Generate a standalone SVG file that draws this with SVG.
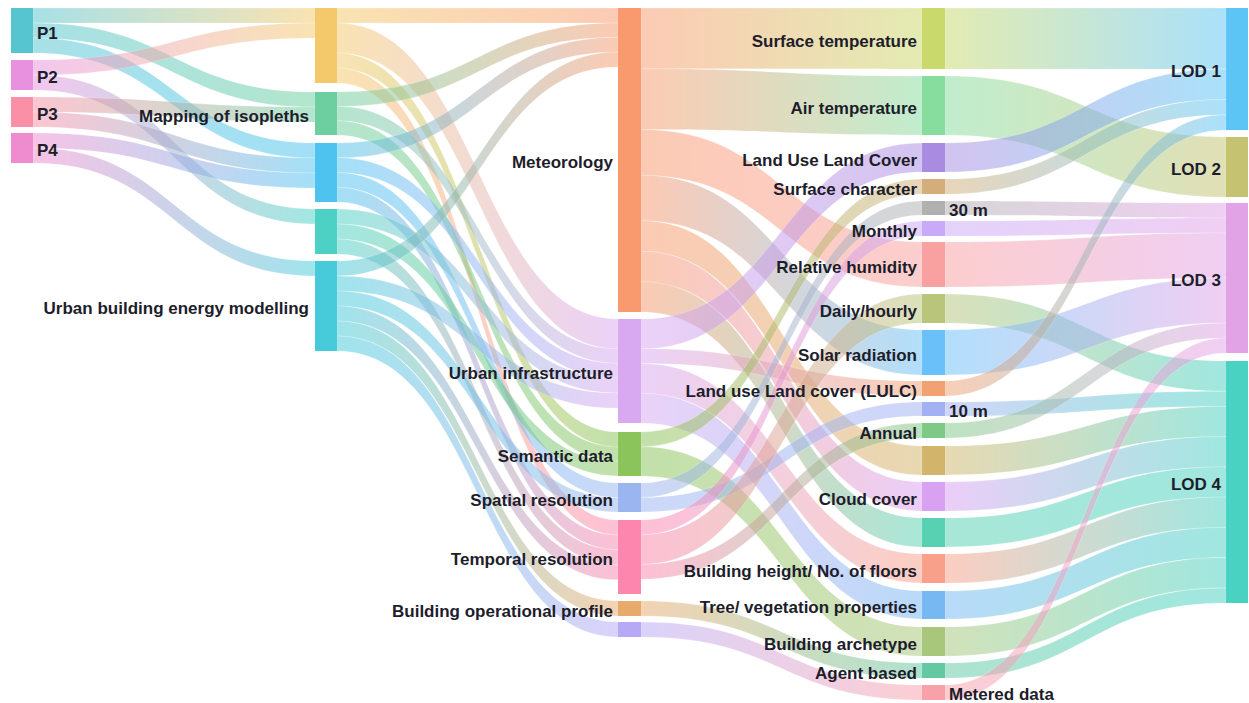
<svg xmlns="http://www.w3.org/2000/svg" width="1249" height="703" viewBox="0 0 1249 703">
<style>
.lk{fill-opacity:.52;stroke:#fff;stroke-opacity:.35;stroke-width:.6}
.lb{font-family:"Liberation Sans",Arial,sans-serif;font-weight:700;font-size:17px;fill:#1d1d2b}
.r{text-anchor:end}
</style>
<defs>
<linearGradient id="g1"><stop offset="0" stop-color="#57c5cf"/><stop offset="1" stop-color="#f4c96b"/></linearGradient>
<linearGradient id="g2"><stop offset="0" stop-color="#57c5cf"/><stop offset="1" stop-color="#6dcf9f"/></linearGradient>
<linearGradient id="g3"><stop offset="0" stop-color="#57c5cf"/><stop offset="1" stop-color="#4ec3f0"/></linearGradient>
<linearGradient id="g4"><stop offset="0" stop-color="#e892df"/><stop offset="1" stop-color="#f4c96b"/></linearGradient>
<linearGradient id="g5"><stop offset="0" stop-color="#e892df"/><stop offset="1" stop-color="#4cd1c4"/></linearGradient>
<linearGradient id="g6"><stop offset="0" stop-color="#f990a5"/><stop offset="1" stop-color="#6dcf9f"/></linearGradient>
<linearGradient id="g7"><stop offset="0" stop-color="#f990a5"/><stop offset="1" stop-color="#4ec3f0"/></linearGradient>
<linearGradient id="g8"><stop offset="0" stop-color="#ef8bcf"/><stop offset="1" stop-color="#4ec3f0"/></linearGradient>
<linearGradient id="g9"><stop offset="0" stop-color="#ef8bcf"/><stop offset="1" stop-color="#47cbda"/></linearGradient>
<linearGradient id="g10"><stop offset="0" stop-color="#f4c96b"/><stop offset="1" stop-color="#f99a6e"/></linearGradient>
<linearGradient id="g11"><stop offset="0" stop-color="#f4c96b"/><stop offset="1" stop-color="#d8a8f1"/></linearGradient>
<linearGradient id="g12"><stop offset="0" stop-color="#f4c96b"/><stop offset="1" stop-color="#8ac45b"/></linearGradient>
<linearGradient id="g13"><stop offset="0" stop-color="#f4c96b"/><stop offset="1" stop-color="#fc86ad"/></linearGradient>
<linearGradient id="g14"><stop offset="0" stop-color="#6dcf9f"/><stop offset="1" stop-color="#f99a6e"/></linearGradient>
<linearGradient id="g15"><stop offset="0" stop-color="#6dcf9f"/><stop offset="1" stop-color="#d8a8f1"/></linearGradient>
<linearGradient id="g16"><stop offset="0" stop-color="#6dcf9f"/><stop offset="1" stop-color="#8ac45b"/></linearGradient>
<linearGradient id="g17"><stop offset="0" stop-color="#4ec3f0"/><stop offset="1" stop-color="#f99a6e"/></linearGradient>
<linearGradient id="g18"><stop offset="0" stop-color="#4ec3f0"/><stop offset="1" stop-color="#d8a8f1"/></linearGradient>
<linearGradient id="g19"><stop offset="0" stop-color="#4ec3f0"/><stop offset="1" stop-color="#9bb5f0"/></linearGradient>
<linearGradient id="g20"><stop offset="0" stop-color="#4ec3f0"/><stop offset="1" stop-color="#fc86ad"/></linearGradient>
<linearGradient id="g21"><stop offset="0" stop-color="#4cd1c4"/><stop offset="1" stop-color="#d8a8f1"/></linearGradient>
<linearGradient id="g22"><stop offset="0" stop-color="#4cd1c4"/><stop offset="1" stop-color="#8ac45b"/></linearGradient>
<linearGradient id="g23"><stop offset="0" stop-color="#4cd1c4"/><stop offset="1" stop-color="#fc86ad"/></linearGradient>
<linearGradient id="g24"><stop offset="0" stop-color="#47cbda"/><stop offset="1" stop-color="#f99a6e"/></linearGradient>
<linearGradient id="g25"><stop offset="0" stop-color="#47cbda"/><stop offset="1" stop-color="#d8a8f1"/></linearGradient>
<linearGradient id="g26"><stop offset="0" stop-color="#47cbda"/><stop offset="1" stop-color="#9bb5f0"/></linearGradient>
<linearGradient id="g27"><stop offset="0" stop-color="#47cbda"/><stop offset="1" stop-color="#fc86ad"/></linearGradient>
<linearGradient id="g28"><stop offset="0" stop-color="#47cbda"/><stop offset="1" stop-color="#e8aa6b"/></linearGradient>
<linearGradient id="g29"><stop offset="0" stop-color="#47cbda"/><stop offset="1" stop-color="#b8a9f6"/></linearGradient>
<linearGradient id="g30"><stop offset="0" stop-color="#f99a6e"/><stop offset="1" stop-color="#c9d96b"/></linearGradient>
<linearGradient id="g31"><stop offset="0" stop-color="#f99a6e"/><stop offset="1" stop-color="#86dd9e"/></linearGradient>
<linearGradient id="g32"><stop offset="0" stop-color="#f99a6e"/><stop offset="1" stop-color="#f9a0a1"/></linearGradient>
<linearGradient id="g33"><stop offset="0" stop-color="#f99a6e"/><stop offset="1" stop-color="#6ac1f9"/></linearGradient>
<linearGradient id="g34"><stop offset="0" stop-color="#f99a6e"/><stop offset="1" stop-color="#d2b56b"/></linearGradient>
<linearGradient id="g35"><stop offset="0" stop-color="#f99a6e"/><stop offset="1" stop-color="#d9a1f2"/></linearGradient>
<linearGradient id="g36"><stop offset="0" stop-color="#f99a6e"/><stop offset="1" stop-color="#57d1b2"/></linearGradient>
<linearGradient id="g37"><stop offset="0" stop-color="#d8a8f1"/><stop offset="1" stop-color="#a98ce2"/></linearGradient>
<linearGradient id="g38"><stop offset="0" stop-color="#d8a8f1"/><stop offset="1" stop-color="#f2a172"/></linearGradient>
<linearGradient id="g39"><stop offset="0" stop-color="#d8a8f1"/><stop offset="1" stop-color="#f9a08a"/></linearGradient>
<linearGradient id="g40"><stop offset="0" stop-color="#d8a8f1"/><stop offset="1" stop-color="#77b8f3"/></linearGradient>
<linearGradient id="g41"><stop offset="0" stop-color="#8ac45b"/><stop offset="1" stop-color="#d3ae7b"/></linearGradient>
<linearGradient id="g42"><stop offset="0" stop-color="#8ac45b"/><stop offset="1" stop-color="#a8c77a"/></linearGradient>
<linearGradient id="g43"><stop offset="0" stop-color="#9bb5f0"/><stop offset="1" stop-color="#b0b0b0"/></linearGradient>
<linearGradient id="g44"><stop offset="0" stop-color="#9bb5f0"/><stop offset="1" stop-color="#a2b1f3"/></linearGradient>
<linearGradient id="g45"><stop offset="0" stop-color="#fc86ad"/><stop offset="1" stop-color="#c9aaf8"/></linearGradient>
<linearGradient id="g46"><stop offset="0" stop-color="#fc86ad"/><stop offset="1" stop-color="#b8c57b"/></linearGradient>
<linearGradient id="g47"><stop offset="0" stop-color="#fc86ad"/><stop offset="1" stop-color="#7ec985"/></linearGradient>
<linearGradient id="g48"><stop offset="0" stop-color="#e8aa6b"/><stop offset="1" stop-color="#62c9a2"/></linearGradient>
<linearGradient id="g49"><stop offset="0" stop-color="#b8a9f6"/><stop offset="1" stop-color="#f9a1aa"/></linearGradient>
<linearGradient id="g50"><stop offset="0" stop-color="#c9d96b"/><stop offset="1" stop-color="#5cc5f5"/></linearGradient>
<linearGradient id="g51"><stop offset="0" stop-color="#86dd9e"/><stop offset="1" stop-color="#c5c271"/></linearGradient>
<linearGradient id="g52"><stop offset="0" stop-color="#a98ce2"/><stop offset="1" stop-color="#5cc5f5"/></linearGradient>
<linearGradient id="g53"><stop offset="0" stop-color="#d3ae7b"/><stop offset="1" stop-color="#5cc5f5"/></linearGradient>
<linearGradient id="g54"><stop offset="0" stop-color="#b0b0b0"/><stop offset="1" stop-color="#e1a2e6"/></linearGradient>
<linearGradient id="g55"><stop offset="0" stop-color="#c9aaf8"/><stop offset="1" stop-color="#e1a2e6"/></linearGradient>
<linearGradient id="g56"><stop offset="0" stop-color="#f9a0a1"/><stop offset="1" stop-color="#e1a2e6"/></linearGradient>
<linearGradient id="g57"><stop offset="0" stop-color="#b8c57b"/><stop offset="1" stop-color="#49d1c2"/></linearGradient>
<linearGradient id="g58"><stop offset="0" stop-color="#6ac1f9"/><stop offset="1" stop-color="#e1a2e6"/></linearGradient>
<linearGradient id="g59"><stop offset="0" stop-color="#f2a172"/><stop offset="1" stop-color="#5cc5f5"/></linearGradient>
<linearGradient id="g60"><stop offset="0" stop-color="#a2b1f3"/><stop offset="1" stop-color="#49d1c2"/></linearGradient>
<linearGradient id="g61"><stop offset="0" stop-color="#7ec985"/><stop offset="1" stop-color="#e1a2e6"/></linearGradient>
<linearGradient id="g62"><stop offset="0" stop-color="#d2b56b"/><stop offset="1" stop-color="#49d1c2"/></linearGradient>
<linearGradient id="g63"><stop offset="0" stop-color="#d9a1f2"/><stop offset="1" stop-color="#49d1c2"/></linearGradient>
<linearGradient id="g64"><stop offset="0" stop-color="#57d1b2"/><stop offset="1" stop-color="#49d1c2"/></linearGradient>
<linearGradient id="g65"><stop offset="0" stop-color="#f9a08a"/><stop offset="1" stop-color="#49d1c2"/></linearGradient>
<linearGradient id="g66"><stop offset="0" stop-color="#77b8f3"/><stop offset="1" stop-color="#49d1c2"/></linearGradient>
<linearGradient id="g67"><stop offset="0" stop-color="#a8c77a"/><stop offset="1" stop-color="#49d1c2"/></linearGradient>
<linearGradient id="g68"><stop offset="0" stop-color="#62c9a2"/><stop offset="1" stop-color="#49d1c2"/></linearGradient>
<linearGradient id="g69"><stop offset="0" stop-color="#f9a1aa"/><stop offset="1" stop-color="#e1a2e6"/></linearGradient>
</defs>
<rect width="1249" height="703" fill="#ffffff"/>
<g id="links">
<path class="lk" fill="url(#g1)" d="M33 8C174 8 174 8 315 8L315 23C174 23 174 23 33 23Z"/>
<path class="lk" fill="url(#g2)" d="M33 23C174 23 174 92 315 92L315 107C174 107 174 38 33 38Z"/>
<path class="lk" fill="url(#g3)" d="M33 38C174 38 174 143 315 143L315 158C174 158 174 53 33 53Z"/>
<path class="lk" fill="url(#g4)" d="M33 60C174 60 174 23 315 23L315 38C174 38 174 75 33 75Z"/>
<path class="lk" fill="url(#g5)" d="M33 75C174 75 174 209 315 209L315 224C174 224 174 90 33 90Z"/>
<path class="lk" fill="url(#g6)" d="M33 97C174 97 174 107 315 107L315 122C174 122 174 112 33 112Z"/>
<path class="lk" fill="url(#g7)" d="M33 112C174 112 174 158 315 158L315 173C174 173 174 127 33 127Z"/>
<path class="lk" fill="url(#g8)" d="M33 133C174 133 174 173 315 173L315 188C174 188 174 148 33 148Z"/>
<path class="lk" fill="url(#g9)" d="M33 148C174 148 174 261 315 261L315 276C174 276 174 163 33 163Z"/>
<path class="lk" fill="url(#g10)" d="M337 8C478 8 478 8 618 8L618 23C478 23 478 23 337 23Z"/>
<path class="lk" fill="url(#g11)" d="M337 23C478 23 478 319 618 319L618 349C478 349 478 53 337 53Z"/>
<path class="lk" fill="url(#g12)" d="M337 53C478 53 478 432 618 432L618 447C478 447 478 68 337 68Z"/>
<path class="lk" fill="url(#g13)" d="M337 68C478 68 478 520 618 520L618 535C478 535 478 83 337 83Z"/>
<path class="lk" fill="url(#g14)" d="M337 92C478 92 478 23 618 23L618 37.3C478 37.3 478 106.3 337 106.3Z"/>
<path class="lk" fill="url(#g15)" d="M337 106.3C478 106.3 478 349 618 349L618 363.3C478 363.3 478 120.7 337 120.7Z"/>
<path class="lk" fill="url(#g16)" d="M337 120.7C478 120.7 478 447 618 447L618 461.3C478 461.3 478 135 337 135Z"/>
<path class="lk" fill="url(#g17)" d="M337 143C478 143 478 37.3 618 37.3L618 52.1C478 52.1 478 157.8 337 157.8Z"/>
<path class="lk" fill="url(#g18)" d="M337 157.8C478 157.8 478 363.3 618 363.3L618 378.1C478 378.1 478 172.5 337 172.5Z"/>
<path class="lk" fill="url(#g19)" d="M337 172.5C478 172.5 478 483 618 483L618 497.8C478 497.8 478 187.3 337 187.3Z"/>
<path class="lk" fill="url(#g20)" d="M337 187.3C478 187.3 478 535 618 535L618 549.8C478 549.8 478 202 337 202Z"/>
<path class="lk" fill="url(#g21)" d="M337 209C478 209 478 378.1 618 378.1L618 393.1C478 393.1 478 224 337 224Z"/>
<path class="lk" fill="url(#g22)" d="M337 224C478 224 478 461.3 618 461.3L618 476C478 476 478 239 337 239Z"/>
<path class="lk" fill="url(#g23)" d="M337 239C478 239 478 549.8 618 549.8L618 564.8C478 564.8 478 254 337 254Z"/>
<path class="lk" fill="url(#g24)" d="M337 261C478 261 478 52.1 618 52.1L618 67.1C478 67.1 478 276 337 276Z"/>
<path class="lk" fill="url(#g25)" d="M337 276C478 276 478 393.1 618 393.1L618 408.1C478 408.1 478 291 337 291Z"/>
<path class="lk" fill="url(#g26)" d="M337 291C478 291 478 497.8 618 497.8L618 512C478 512 478 306 337 306Z"/>
<path class="lk" fill="url(#g27)" d="M337 306C478 306 478 564.8 618 564.8L618 579.8C478 579.8 478 321 337 321Z"/>
<path class="lk" fill="url(#g28)" d="M337 321C478 321 478 601 618 601L618 616C478 616 478 336 337 336Z"/>
<path class="lk" fill="url(#g29)" d="M337 336C478 336 478 622 618 622L618 637C478 637 478 351 337 351Z"/>
<path class="lk" fill="url(#g30)" d="M641 8C782 8 782 8 922 8L922 69C782 69 782 68.8 641 68.8Z"/>
<path class="lk" fill="url(#g31)" d="M641 68.8C782 68.8 782 76 922 76L922 135C782 135 782 129.6 641 129.6Z"/>
<path class="lk" fill="url(#g32)" d="M641 129.6C782 129.6 782 242 922 242L922 287C782 287 782 175.2 641 175.2Z"/>
<path class="lk" fill="url(#g33)" d="M641 175.2C782 175.2 782 330 922 330L922 375C782 375 782 220.8 641 220.8Z"/>
<path class="lk" fill="url(#g34)" d="M641 220.8C782 220.8 782 446 922 446L922 475C782 475 782 251.2 641 251.2Z"/>
<path class="lk" fill="url(#g35)" d="M641 251.2C782 251.2 782 482 922 482L922 511C782 511 782 281.6 641 281.6Z"/>
<path class="lk" fill="url(#g36)" d="M641 281.6C782 281.6 782 518 922 518L922 547C782 547 782 312 641 312Z"/>
<path class="lk" fill="url(#g37)" d="M641 319C782 319 782 143 922 143L922 172C782 172 782 348.7 641 348.7Z"/>
<path class="lk" fill="url(#g38)" d="M641 348.7C782 348.7 782 381 922 381L922 396C782 396 782 363.6 641 363.6Z"/>
<path class="lk" fill="url(#g39)" d="M641 363.6C782 363.6 782 554 922 554L922 583C782 583 782 393.3 641 393.3Z"/>
<path class="lk" fill="url(#g40)" d="M641 393.3C782 393.3 782 591 922 591L922 619C782 619 782 423 641 423Z"/>
<path class="lk" fill="url(#g41)" d="M641 432C782 432 782 179 922 179L922 194C782 194 782 446.7 641 446.7Z"/>
<path class="lk" fill="url(#g42)" d="M641 446.7C782 446.7 782 627 922 627L922 656C782 656 782 476 641 476Z"/>
<path class="lk" fill="url(#g43)" d="M641 483C782 483 782 201 922 201L922 215C782 215 782 497.5 641 497.5Z"/>
<path class="lk" fill="url(#g44)" d="M641 497.5C782 497.5 782 402 922 402L922 416C782 416 782 512 641 512Z"/>
<path class="lk" fill="url(#g45)" d="M641 520C782 520 782 221 922 221L922 236C782 236 782 534.8 641 534.8Z"/>
<path class="lk" fill="url(#g46)" d="M641 534.8C782 534.8 782 294 922 294L922 323C782 323 782 564.4 641 564.4Z"/>
<path class="lk" fill="url(#g47)" d="M641 564.4C782 564.4 782 423 922 423L922 438C782 438 782 579.2 641 579.2Z"/>
<path class="lk" fill="url(#g48)" d="M641 601C782 601 782 663 922 663L922 678C782 678 782 616 641 616Z"/>
<path class="lk" fill="url(#g49)" d="M641 622C782 622 782 685 922 685L922 700C782 700 782 637 641 637Z"/>
<path class="lk" fill="url(#g50)" d="M945 8C1086 8 1086 8 1226 8L1226 69C1086 69 1086 69 945 69Z"/>
<path class="lk" fill="url(#g51)" d="M945 76C1086 76 1086 137 1226 137L1226 197C1086 197 1086 135 945 135Z"/>
<path class="lk" fill="url(#g52)" d="M945 143C1086 143 1086 69 1226 69L1226 99.5C1086 99.5 1086 172 945 172Z"/>
<path class="lk" fill="url(#g53)" d="M945 179C1086 179 1086 99.5 1226 99.5L1226 114.8C1086 114.8 1086 194 945 194Z"/>
<path class="lk" fill="url(#g54)" d="M945 201C1086 201 1086 203 1226 203L1226 218C1086 218 1086 215 945 215Z"/>
<path class="lk" fill="url(#g55)" d="M945 221C1086 221 1086 218 1226 218L1226 233C1086 233 1086 236 945 236Z"/>
<path class="lk" fill="url(#g56)" d="M945 242C1086 242 1086 233 1226 233L1226 278C1086 278 1086 287 945 287Z"/>
<path class="lk" fill="url(#g57)" d="M945 294C1086 294 1086 361 1226 361L1226 391.3C1086 391.3 1086 323 945 323Z"/>
<path class="lk" fill="url(#g58)" d="M945 330C1086 330 1086 278 1226 278L1226 323C1086 323 1086 375 945 375Z"/>
<path class="lk" fill="url(#g59)" d="M945 381C1086 381 1086 114.8 1226 114.8L1226 130C1086 130 1086 396 945 396Z"/>
<path class="lk" fill="url(#g60)" d="M945 402C1086 402 1086 391.3 1226 391.3L1226 406.4C1086 406.4 1086 416 945 416Z"/>
<path class="lk" fill="url(#g61)" d="M945 423C1086 423 1086 323 1226 323L1226 338C1086 338 1086 438 945 438Z"/>
<path class="lk" fill="url(#g62)" d="M945 446C1086 446 1086 406.4 1226 406.4L1226 436.6C1086 436.6 1086 475 945 475Z"/>
<path class="lk" fill="url(#g63)" d="M945 482C1086 482 1086 436.6 1226 436.6L1226 466.9C1086 466.9 1086 511 945 511Z"/>
<path class="lk" fill="url(#g64)" d="M945 518C1086 518 1086 466.9 1226 466.9L1226 497.1C1086 497.1 1086 547 945 547Z"/>
<path class="lk" fill="url(#g65)" d="M945 554C1086 554 1086 497.1 1226 497.1L1226 527.4C1086 527.4 1086 583 945 583Z"/>
<path class="lk" fill="url(#g66)" d="M945 591C1086 591 1086 527.4 1226 527.4L1226 557.6C1086 557.6 1086 619 945 619Z"/>
<path class="lk" fill="url(#g67)" d="M945 627C1086 627 1086 557.6 1226 557.6L1226 587.9C1086 587.9 1086 656 945 656Z"/>
<path class="lk" fill="url(#g68)" d="M945 663C1086 663 1086 587.9 1226 587.9L1226 603C1086 603 1086 678 945 678Z"/>
<path class="lk" fill="url(#g69)" d="M945 685C1086 685 1086 338 1226 338L1226 353C1086 353 1086 700 945 700Z"/>
</g>
<g id="nodes">
<g id="n-p1"><rect x="11" y="8" width="22" height="45" fill="#57c5cf"/><text class="lb" x="37" y="38.5">P1</text></g>
<g id="n-p2"><rect x="11" y="60" width="22" height="30" fill="#e892df"/><text class="lb" x="37" y="83">P2</text></g>
<g id="n-p3"><rect x="11" y="97" width="22" height="30" fill="#f990a5"/><text class="lb" x="37" y="120">P3</text></g>
<g id="n-p4"><rect x="11" y="133" width="22" height="30" fill="#ef8bcf"/><text class="lb" x="37" y="156">P4</text></g>
<g id="n-c1a"><rect x="315" y="8" width="22" height="75" fill="#f4c96b"/></g>
<g id="n-mapping"><rect x="315" y="92" width="22" height="43" fill="#6dcf9f"/><text class="lb r" x="309" y="121.5">Mapping of isopleths</text></g>
<g id="n-c1c"><rect x="315" y="143" width="22" height="59" fill="#4ec3f0"/></g>
<g id="n-c1d"><rect x="315" y="209" width="22" height="45" fill="#4cd1c4"/></g>
<g id="n-ubem"><rect x="315" y="261" width="22" height="90" fill="#47cbda"/><text class="lb r" x="309" y="314">Urban building energy modelling</text></g>
<g id="n-met"><rect x="618" y="8" width="23" height="304" fill="#f99a6e"/><text class="lb r" x="613" y="168">Meteorology</text></g>
<g id="n-ui"><rect x="618" y="319" width="23" height="104" fill="#d8a8f1"/><text class="lb r" x="613" y="379">Urban infrastructure</text></g>
<g id="n-sem"><rect x="618" y="432" width="23" height="44" fill="#8ac45b"/><text class="lb r" x="613" y="462">Semantic data</text></g>
<g id="n-spa"><rect x="618" y="483" width="23" height="29" fill="#9bb5f0"/><text class="lb r" x="613" y="505.5">Spatial resolution</text></g>
<g id="n-tmp"><rect x="618" y="520" width="23" height="74" fill="#fc86ad"/><text class="lb r" x="613" y="565">Temporal resolution</text></g>
<g id="n-bop"><rect x="618" y="601" width="23" height="15" fill="#e8aa6b"/><text class="lb r" x="613" y="616.5">Building operational profile</text></g>
<g id="n-pur"><rect x="618" y="622" width="23" height="15" fill="#b8a9f6"/></g>
<g id="n-st"><rect x="922" y="8" width="23" height="61" fill="#c9d96b"/><text class="lb r" x="917" y="46.5">Surface temperature</text></g>
<g id="n-at"><rect x="922" y="76" width="23" height="59" fill="#86dd9e"/><text class="lb r" x="917" y="113.5">Air temperature</text></g>
<g id="n-lc"><rect x="922" y="143" width="23" height="29" fill="#a98ce2"/><text class="lb r" x="917" y="165.5">Land Use Land Cover</text></g>
<g id="n-sc"><rect x="922" y="179" width="23" height="15" fill="#d3ae7b"/><text class="lb r" x="917" y="194.5">Surface character</text></g>
<g id="n-30m"><rect x="922" y="201" width="23" height="14" fill="#b0b0b0"/><text class="lb" x="949" y="216">30 m</text></g>
<g id="n-mon"><rect x="922" y="221" width="23" height="15" fill="#c9aaf8"/><text class="lb r" x="917" y="236.5">Monthly</text></g>
<g id="n-rh"><rect x="922" y="242" width="23" height="45" fill="#f9a0a1"/><text class="lb r" x="917" y="272.5">Relative humidity</text></g>
<g id="n-dh"><rect x="922" y="294" width="23" height="29" fill="#b8c57b"/><text class="lb r" x="917" y="316.5">Daily/hourly</text></g>
<g id="n-sr"><rect x="922" y="330" width="23" height="45" fill="#6ac1f9"/><text class="lb r" x="917" y="360.5">Solar radiation</text></g>
<g id="n-lulc"><rect x="922" y="381" width="23" height="15" fill="#f2a172"/><text class="lb r" x="917" y="396.5">Land use Land cover (LULC)</text></g>
<g id="n-10m"><rect x="922" y="402" width="23" height="14" fill="#a2b1f3"/><text class="lb" x="949" y="417">10 m</text></g>
<g id="n-an"><rect x="922" y="423" width="23" height="15" fill="#7ec985"/><text class="lb r" x="917" y="438.5">Annual</text></g>
<g id="n-gd"><rect x="922" y="446" width="23" height="29" fill="#d2b56b"/></g>
<g id="n-cc"><rect x="922" y="482" width="23" height="29" fill="#d9a1f2"/><text class="lb r" x="917" y="504.5">Cloud cover</text></g>
<g id="n-t3"><rect x="922" y="518" width="23" height="29" fill="#57d1b2"/></g>
<g id="n-bh"><rect x="922" y="554" width="23" height="29" fill="#f9a08a"/><text class="lb r" x="917" y="576.5">Building height/ No. of floors</text></g>
<g id="n-tv"><rect x="922" y="591" width="23" height="28" fill="#77b8f3"/><text class="lb r" x="917" y="613">Tree/ vegetation properties</text></g>
<g id="n-ba"><rect x="922" y="627" width="23" height="29" fill="#a8c77a"/><text class="lb r" x="917" y="649.5">Building archetype</text></g>
<g id="n-ab"><rect x="922" y="663" width="23" height="15" fill="#62c9a2"/><text class="lb r" x="917" y="678.5">Agent based</text></g>
<g id="n-md"><rect x="922" y="685" width="23" height="15" fill="#f9a1aa"/><text class="lb" x="949" y="700">Metered data</text></g>
<g id="n-lod1"><rect x="1226" y="8" width="22" height="122" fill="#5cc5f5"/><text class="lb r" x="1221" y="77">LOD 1</text></g>
<g id="n-lod2"><rect x="1226" y="137" width="22" height="60" fill="#c5c271"/><text class="lb r" x="1221" y="175">LOD 2</text></g>
<g id="n-lod3"><rect x="1226" y="203" width="22" height="150" fill="#e1a2e6"/><text class="lb r" x="1221" y="286">LOD 3</text></g>
<g id="n-lod4"><rect x="1226" y="361" width="22" height="242" fill="#49d1c2"/><text class="lb r" x="1221" y="490">LOD 4</text></g>
</g>
</svg>
